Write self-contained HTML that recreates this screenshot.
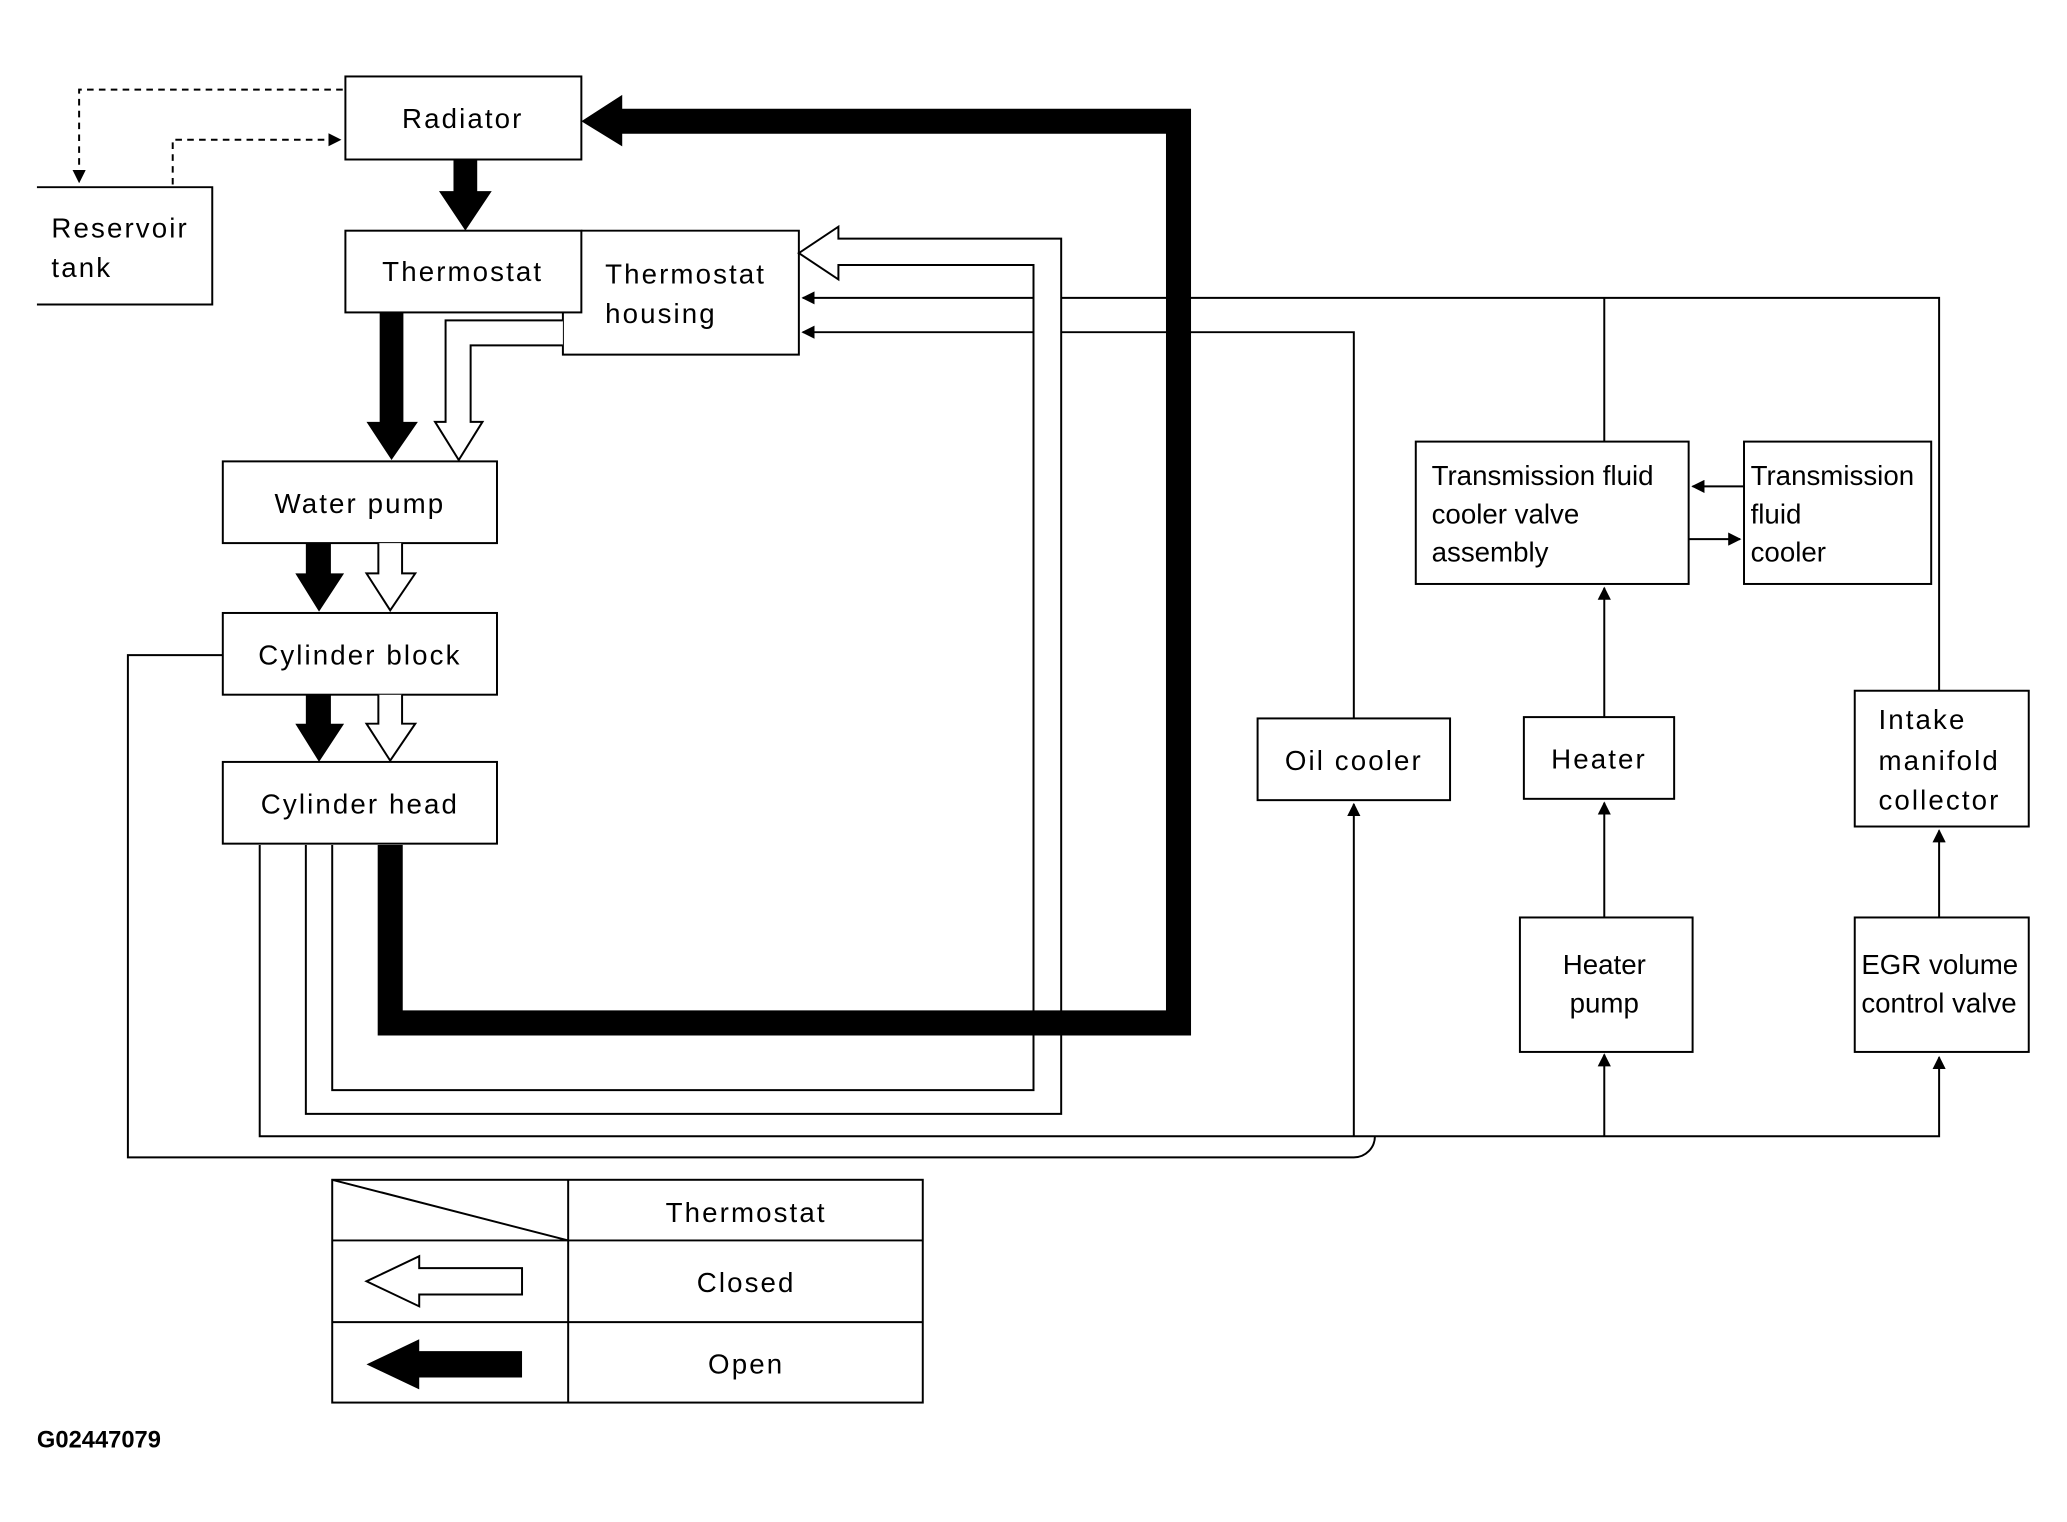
<!DOCTYPE html>
<html><head><meta charset="utf-8"><style>
html,body{margin:0;padding:0;background:#fff}
svg{display:block}
text{font-family:"Liberation Sans","DejaVu Sans",sans-serif;font-size:21px;fill:#000;letter-spacing:1.6px}
</style></head><body>
<svg width="2067" height="1522" viewBox="0 0 1568 1154.6" xmlns="http://www.w3.org/2000/svg">
<defs>
<marker id="ah" markerWidth="10" markerHeight="10" refX="9" refY="5" orient="auto" markerUnits="userSpaceOnUse"><path d="M0,0 L10,5 L0,10 z" fill="#000"/></marker>
</defs>
<g fill="none" stroke="#000" stroke-width="1.5">
<path d="M260,68 H60 V138" stroke-dasharray="5,4" marker-end="url(#ah)"/>
<path d="M131,140 V106 H258" stroke-dasharray="5,4" marker-end="url(#ah)"/>
<rect x="262" y="58" width="179" height="63"/>
<path d="M28,142 H161 V231 H28"/>
<rect x="262" y="175" width="179" height="62"/>
<path d="M441,175 H606 V269 H427 V237"/>
<rect x="169" y="350" width="208" height="62"/>
<rect x="169" y="465" width="208" height="62"/>
<rect x="169" y="578" width="208" height="62"/>
<rect x="954" y="545" width="146" height="62"/>
<rect x="1156" y="544" width="114" height="62"/>
<rect x="1153" y="696" width="131" height="102"/>
<rect x="1074" y="335" width="207" height="108"/>
<rect x="1323" y="335" width="142" height="108"/>
<rect x="1407" y="524" width="132" height="103"/>
<rect x="1407" y="696" width="132" height="102"/>
<path d="M169,497 H97 V878 H1027 A16,16 0 0 0 1043,862"/>
<path d="M197,641 V862 H1471 V802" marker-end="url(#ah)"/>
<path d="M1027,862 V610" marker-end="url(#ah)"/>
<path d="M1217,862 V800" marker-end="url(#ah)"/>
<path d="M1217,696 V609" marker-end="url(#ah)"/>
<path d="M1217,544 V446" marker-end="url(#ah)"/>
<path d="M1471,696 V630" marker-end="url(#ah)"/>
<path d="M1027,545 V252 H609" marker-end="url(#ah)"/>
<path d="M1217,335 V226"/>
<path d="M1471,524 V226 H609" marker-end="url(#ah)"/>
<path d="M1323,369 H1284" marker-end="url(#ah)"/>
<path d="M1281,409 H1320" marker-end="url(#ah)"/>
<path d="M232,641 V845 H805 V181 H636 V172 L606,192 L636,212 V201 H784 V827 H252 V641" fill="#fff"/>
<path d="M427,243 H338 V320 H330 L348,349 L366,320 H357 V262 H427" fill="#fff"/>
<path d="M287,412 V435 H278 L296,463 L315,435 H305 V412" fill="#fff"/>
<path d="M287,527 V549 H278 L296,577 L315,549 H305 V527" fill="#fff"/>
</g>
<g fill="#000">
<polygon points="344,121 362,121 362,145 373,145 353,175 333,145 344,145"/>
<polygon points="288,237 306,237 306,320 317,320 297,349 278,320 288,320"/>
<polygon points="232,412 251,412 251,435 261,435 242,464 224,435 232,435"/>
<polygon points="232,527 251,527 251,549 261,549 242,578 224,549 232,549"/>
<polygon points="441,92 472,72 472,111"/>
</g>
<path d="M296,641 V776 H894 V92 H470" fill="none" stroke="#000" stroke-width="19"/>
<g fill="none" stroke="#000" stroke-width="1.5">
<rect x="252" y="895" width="448" height="169"/>
<path d="M431,895 V1064 M252,941 H700 M252,1003 H700 M252,895 L431,941"/>
<path d="M278,972 L318,953 V962 H396 V982 H318 V991 Z" fill="#fff"/>
</g>
<path d="M278,1035 L318,1016 V1025 H396 V1045 H318 V1054 Z" fill="#000"/>
<g>
<text x="351" y="97" text-anchor="middle">Radiator</text>
<text x="39" y="180">Reservoir</text>
<text x="39" y="210">tank</text>
<text x="351" y="213" text-anchor="middle">Thermostat</text>
<text x="459" y="215">Thermostat</text>
<text x="459" y="245">housing</text>
<text x="273" y="389" text-anchor="middle">Water pump</text>
<text x="273" y="504" text-anchor="middle">Cylinder block</text>
<text x="273" y="617" text-anchor="middle">Cylinder head</text>
<text x="1027" y="584" text-anchor="middle">Oil cooler</text>
<text x="1213" y="583" text-anchor="middle">Heater</text>
<text x="1217" y="739" text-anchor="middle" style="letter-spacing:0">Heater</text>
<text x="1217" y="768" text-anchor="middle" style="letter-spacing:0">pump</text>
<text x="1086" y="368" style="letter-spacing:0">Transmission fluid</text>
<text x="1086" y="397" style="letter-spacing:0">cooler valve</text>
<text x="1086" y="426" style="letter-spacing:0">assembly</text>
<text x="1328" y="368" style="letter-spacing:0">Transmission</text>
<text x="1328" y="397" style="letter-spacing:0">fluid</text>
<text x="1328" y="426" style="letter-spacing:0">cooler</text>
<text x="1425" y="553">Intake</text>
<text x="1425" y="584">manifold</text>
<text x="1425" y="614">collector</text>
<text x="1412" y="739" style="letter-spacing:0">EGR volume</text>
<text x="1412" y="768" style="letter-spacing:0">control valve</text>
<text x="566" y="927" text-anchor="middle">Thermostat</text>
<text x="566" y="980" text-anchor="middle">Closed</text>
<text x="566" y="1042" text-anchor="middle">Open</text>
<text x="28" y="1098" style="font-size:18px;font-weight:bold;letter-spacing:0">G02447079</text>
</g>
</svg>
</body></html>
